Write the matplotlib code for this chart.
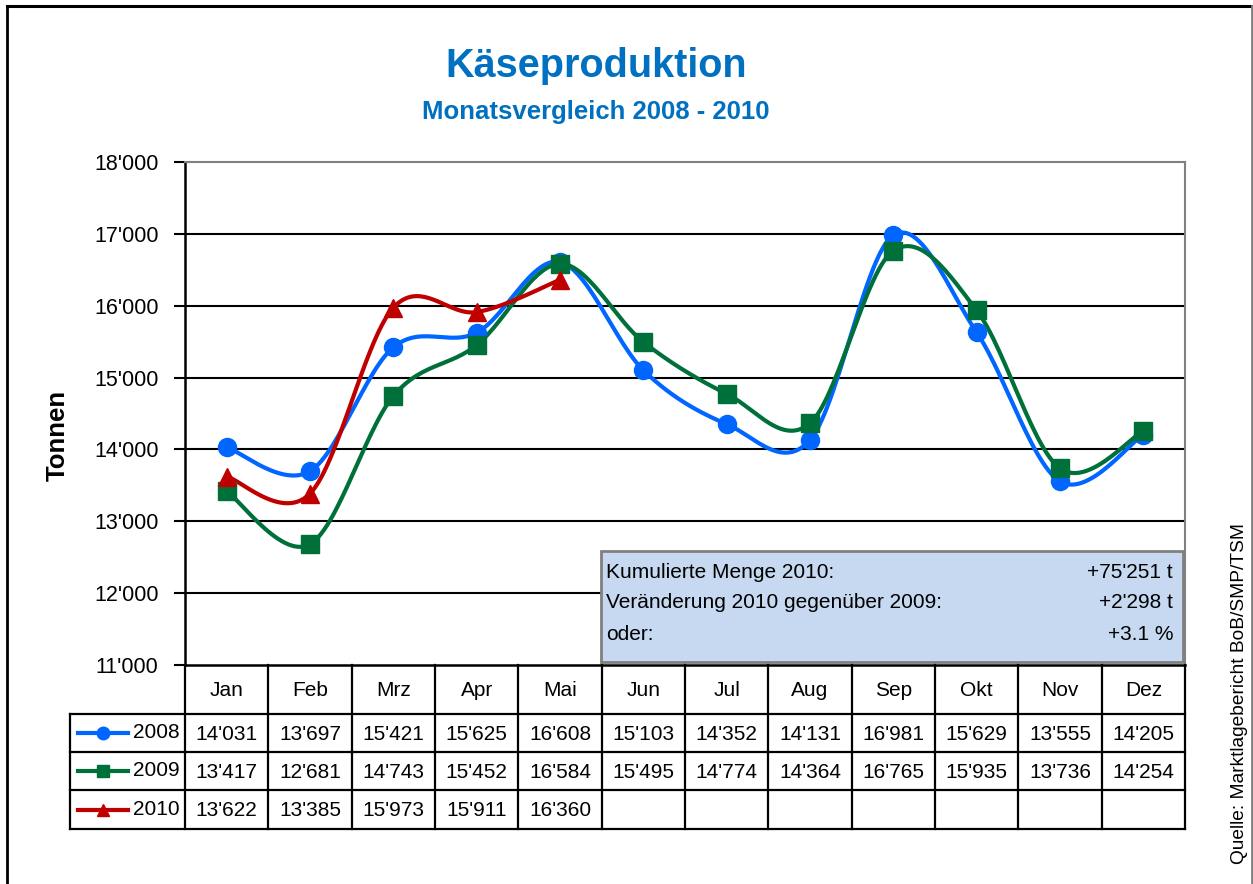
import numpy as np
import matplotlib
matplotlib.use("Agg")
import matplotlib.pyplot as plt
from matplotlib.patches import Rectangle

# Käseproduktion, Monatsvergleich 2008 - 2010 (Tonnen)
months = ["Jan", "Feb", "Mrz", "Apr", "Mai", "Jun", "Jul", "Aug", "Sep", "Okt", "Nov", "Dez"]
years = ["2008", "2009", "2010"]
prod_2008 = [14031, 13697, 15421, 15625, 16608, 15103, 14352, 14131, 16981, 15629, 13555, 14205]
prod_2009 = [13417, 12681, 14743, 15452, 16584, 15495, 14774, 14364, 16765, 15935, 13736, 14254]
prod_2010 = [13622, 13385, 15973, 15911, 16360]
yticks = [11000, 12000, 13000, 14000, 15000, 16000, 17000, 18000]

info_labels = ["Kumulierte Menge 2010:", "Veränderung 2010 gegenüber 2009:", "oder:"]
info_values = ["+75'251 t", "+2'298 t", "+3.1 %"]

# Arial Narrow gibt es nicht -> Liberation Sans, etwas kleiner
FONT = ["Liberation Sans", "DejaVu Sans"]

colors = ["#0066FF", "#00703A", "#C00000"]
markers = ["o", "s", "^"]

W, H = 1253, 884


def fmt(v):
    return f"{v:,}".replace(",", "'")


def smooth(ys, n=30):
    # Excel-artige Glättung (Catmull-Rom Bezier)
    p = np.column_stack([np.arange(len(ys), dtype=float), np.asarray(ys, dtype=float)])
    out = [p[0]]
    t = np.linspace(0, 1, n)[1:, None]
    for i in range(len(p) - 1):
        p0 = p[i - 1] if i > 0 else p[i]
        p1, p2 = p[i], p[i + 1]
        p3 = p[i + 2] if i + 2 < len(p) else p[i + 1]
        c1 = p1 + (p2 - p0) / 6
        c2 = p2 - (p3 - p1) / 6
        seg = ((1 - t) ** 3) * p1 + 3 * ((1 - t) ** 2) * t * c1 + 3 * (1 - t) * t ** 2 * c2 + t ** 3 * p2
        out.extend(seg)
    out = np.array(out)
    return out[:, 0], out[:, 1]


fig = plt.figure(figsize=(W / 100, H / 100), dpi=100)

# Plotbereich in Pixeln
px_l, px_r, px_t, px_b = 185, 1185, 162, 665
ax = fig.add_axes([px_l / W, 1 - px_b / H, (px_r - px_l) / W, (px_b - px_t) / H])
ax.set_xlim(-0.5, 11.5)
ax.set_ylim(11000, 18000)
ax.set_yticks(yticks)
ax.set_yticklabels([fmt(v) for v in yticks], family=FONT, fontsize=15.5)
ax.set_xticks([])
ax.tick_params(axis="y", length=8, width=1.5, pad=11)
for s in ["top", "right"]:
    ax.spines[s].set_color("#808080")
    ax.spines[s].set_linewidth(1.5)
ax.spines["left"].set_linewidth(1.8)
ax.spines["bottom"].set_linewidth(1.8)
for v in yticks[1:-1]:
    ax.axhline(v, color="black", lw=1.5, zorder=1)

series = [prod_2008, prod_2009, prod_2010]
for vals, c, m in zip(series, colors, markers):
    sx, sy = smooth(vals)
    ax.plot(sx, sy, color=c, lw=3, zorder=3, solid_capstyle="round")
    ax.plot(np.arange(len(vals)), vals, ls="none", marker=m, ms=13, color=c, zorder=4)

ax.set_ylabel("Tonnen", family=FONT, fontsize=18.5, fontweight="bold")
ax.yaxis.set_label_coords((70 - px_l) / (px_r - px_l), (px_b - 435) / (px_b - px_t))

# Overlay in Pixelkoordinaten für Titel, Tabelle, Rahmen
ov = fig.add_axes([0, 0, 1, 1], zorder=5)
ov.set_xlim(0, W)
ov.set_ylim(H, 0)
ov.axis("off")
ov.patch.set_alpha(0)

ov.plot([7, 7], [6, H], color="black", lw=2)
ov.plot([7, 1252], [6, 6], color="black", lw=2.2)
ov.plot([1252, 1252], [6, H], color="#808080", lw=2)

ov.text(596, 66, "Käseproduktion", family=FONT, fontsize=28.5, fontweight="bold",
        color="#0070C0", ha="center", va="center")
ov.text(596, 112, "Monatsvergleich 2008 - 2010", family=FONT, fontsize=18.5, fontweight="bold",
        color="#0070C0", ha="center", va="center")
ov.text(1240, 693, "Quelle: Marktlagebericht BoB/SMP/TSM", family=FONT, fontsize=13.8,
        rotation=90, ha="center", va="center")

# Infobox
ov.add_patch(Rectangle((601, 551), 582, 111, facecolor="#C6D9F1", edgecolor="#808080", lw=2, zorder=2))
for i, (lab, val) in enumerate(zip(info_labels, info_values)):
    y = 572 + i * 31
    ov.text(606, y, lab, family=FONT, fontsize=15, ha="left", va="center", zorder=3)
    ov.text(1173, y, val, family=FONT, fontsize=15, ha="right", va="center", zorder=3)

# Datentabelle
col_w = (px_r - px_l) / len(months)
edges = [px_l + i * col_w for i in range(len(months) + 1)]
row_y = [665, 714, 752, 790, 829]
lc = dict(color="black", lw=1.6, solid_capstyle="projecting")
for e in edges:
    ov.plot([e, e], [row_y[0], row_y[-1]], **lc)
ov.plot([70, 70], [row_y[1], row_y[-1]], **lc)
for y in row_y[1:]:
    ov.plot([70, px_r], [y, y], **lc)
for i, mname in enumerate(months):
    ov.text(edges[i] + col_w / 2, (row_y[0] + row_y[1]) / 2 + 1, mname, family=FONT,
            fontsize=15, ha="center", va="center")
for r, (yr, vals, c, m) in enumerate(zip(years, series, colors, markers)):
    yc = (row_y[r + 1] + row_y[r + 2]) / 2
    ov.plot([78, 128], [yc, yc], color=c, lw=3)
    ov.plot([103], [yc], marker=m, ms=9, color=c, ls="none")
    ov.text(180, yc, yr, family=FONT, fontsize=15, ha="right", va="center")
    for i, v in enumerate(vals):
        ov.text(edges[i] + col_w / 2, yc + 1, fmt(v), family=FONT, fontsize=15,
                ha="center", va="center")

fig.savefig("out.png", dpi=100)
